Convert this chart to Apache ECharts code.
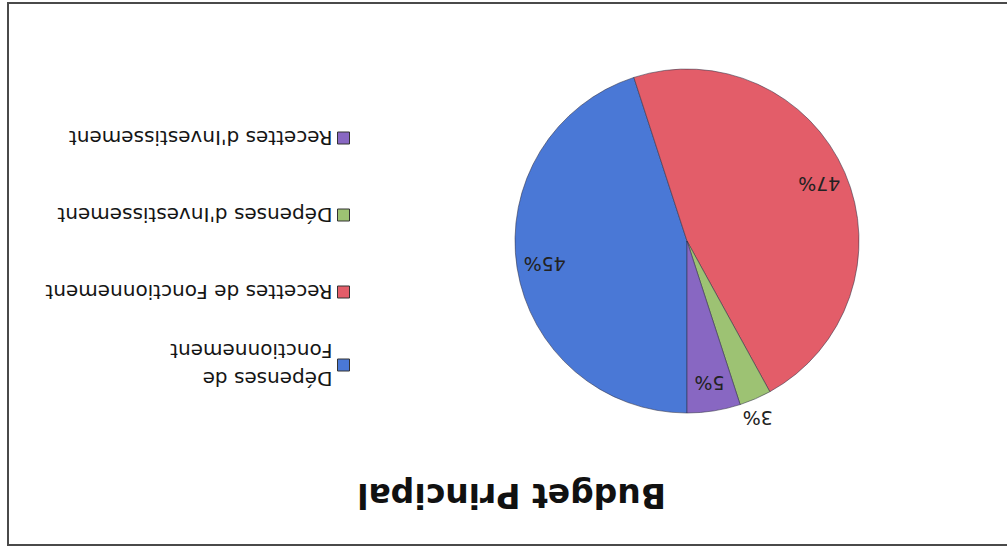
<!DOCTYPE html>
<html>
<head>
<meta charset="utf-8">
<script src="https://cdn.jsdelivr.net/npm/echarts@6/dist/echarts.min.js"></script>
<style>
  html, body { margin: 0; padding: 0; background: #fff; }
  /* the scanned page is upside down, so the whole chart is turned round */
  #pie { width: 1007px; height: 554px; transform: rotate(180deg); }
</style>
</head>
<body>
<div id="pie"></div>
<script>
const titleText = 'Budget Principal';
const categories = [
  'Dépenses de Fonctionnement',
  'Recettes de Fonctionnement',
  "Dépenses d'Investissement",
  "Recettes d'Investissement"
];
const values = [45, 47, 3, 5];
const colors = ['#4a78d6', '#e35d69', '#9dc273', '#8867c2'];

const font = 'DejaVu Sans';
const center = [320, 313];
const radius = 172;

var myChart = echarts.init(document.getElementById('pie'), null, { renderer: 'svg' });

var option = {
  backgroundColor: '#fff',
  color: colors,
  title: {
    text: titleText,
    left: 336,
    top: 37,
    textStyle: { fontFamily: font, fontSize: 33, fontWeight: 'bold', color: '#111' }
  },
  legend: {
    orient: 'vertical',
    left: 657,
    top: 161,
    padding: 0,
    itemGap: 13,
    itemWidth: 12,
    itemHeight: 12,
    icon: 'rect',
    itemStyle: { borderColor: '#333', borderWidth: 1 },
    textStyle: {
      fontFamily: font, fontSize: 20, color: '#151515',
      width: 294, overflow: 'break', lineHeight: 64
    },
    data: categories.map((name, i) => i === 0
      ? { name: name, textStyle: { lineHeight: 28 } }
      : { name: name })
  },
  graphic: [{
    type: 'rect',
    shape: { x: -10, y: 9, width: 1009, height: 542 },
    style: { fill: 'none', stroke: '#4a4a4a', lineWidth: 2 },
    silent: true
  }],
  series: [
    {
      name: 'Budget',
      type: 'pie',
      center: center,
      radius: [0, radius],
      startAngle: 90,
      clockwise: true,
      percentPrecision: 0,
      avoidLabelOverlap: false,
      itemStyle: { borderColor: 'rgba(50,50,70,0.55)', borderWidth: 1 },
      // only the thin slice keeps its label outside the pie
      label: { show: false },
      labelLine: { show: false },
      emphasis: { disabled: true },
      data: categories.map((name, i) => ({
        name: name,
        value: values[i],
        label: i === 2 ? {
          show: true,
          position: 'outside',
          formatter: '{d}%',
          distanceToLabelLine: -21,
          fontFamily: font, fontSize: 19, color: '#222'
        } : { show: false },
        labelLine: { show: false, length: 21, length2: 0 }
      }))
    },
    {
      // transparent twin ring that only carries the inside labels further out
      name: 'labels',
      type: 'pie',
      center: center,
      radius: [0, radius * 1.64],
      startAngle: 90,
      clockwise: true,
      percentPrecision: 0,
      silent: true,
      legendHoverLink: false,
      avoidLabelOverlap: false,
      itemStyle: { color: 'transparent', borderWidth: 0 },
      label: {
        position: 'inside',
        formatter: '{d}%',
        fontFamily: font, fontSize: 19, color: '#222'
      },
      labelLine: { show: false },
      data: values.map((v, i) => ({
        value: v,
        label: { show: i !== 2 }
      }))
    }
  ]
};

myChart.setOption(option);
</script>
</body>
</html>
